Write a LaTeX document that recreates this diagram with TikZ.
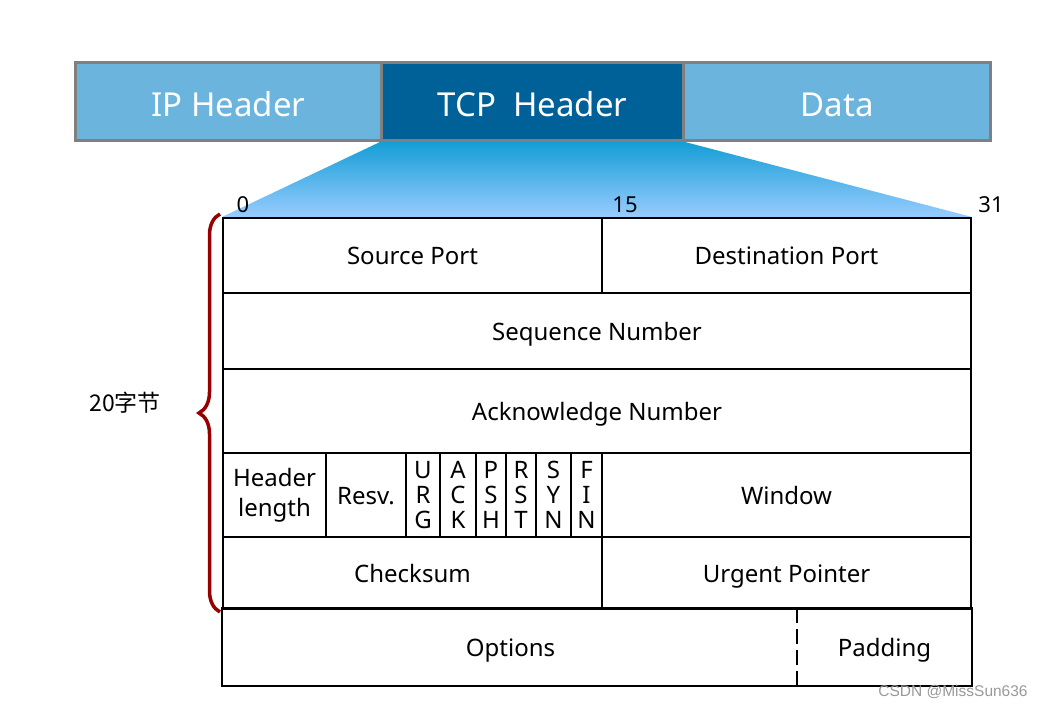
\documentclass[tikz,border=0pt]{standalone}
\usepackage{fontspec}
\setmainfont{Noto Sans}
\newfontfamily\cjkfont{Noto Sans CJK SC}
\newfontfamily\markfont{Liberation Sans}
\usepackage{tikz}
\usetikzlibrary{decorations.pathreplacing,backgrounds,positioning}
\definecolor{ipblue}{RGB}{107,180,221}
\definecolor{tcpblue}{RGB}{0,96,152}
\definecolor{fantop}{RGB}{20,158,214}
\definecolor{fanbot}{RGB}{153,204,255}
\definecolor{bracered}{RGB}{150,0,0}

\begin{document}
\begin{tikzpicture}[x=1pt,y=-1pt,
                    seg/.style={draw=gray, line width=3pt, text=white, minimum height=78, inner sep=0, anchor=north west, text height=30, text depth=0, font=\fontsize{33}{36}\selectfont},
                    field/.style={draw, line width=2pt, inner sep=0, anchor=north west, align=center, font=\fontsize{24}{30}\selectfont},
                    oneline/.style={field, text height=19, text depth=0},
                    flag/.style={field, font=\fontsize{24}{25}\selectfont},
                    bitnum/.style={inner sep=0, font=\fontsize{22}{24}\selectfont},
                   ]

\useasboundingbox (0,0) rectangle (1041,708);

% packet
\node[seg, fill=ipblue, minimum width=306] (ip) at (74,61) {IP Header};
\node[seg, fill=tcpblue, minimum width=302] (tcp) at (380,61) {TCP\ \ Header};
\node[seg, fill=ipblue, minimum width=307] (data) at (682,61) {Data};

% header fields
\node[oneline, minimum width=379, minimum height=75] (srcport) at (222,217) {Source Port};
\node[oneline, minimum width=369, minimum height=75] (dstport) at (601,217) {Destination Port};
\node[oneline, minimum width=748, minimum height=76] (seqnum) at (222,292) {Sequence Number};
\node[oneline, minimum width=748, minimum height=84] (acknum) at (222,368) {Acknowledge Number};

\node[field, minimum width=103, minimum height=84] (hlen) at (222,452) {Header\\length};
\node[oneline, minimum width=80, minimum height=84] (resv) at (325,452) {Resv.};
\node[flag, minimum width=34, minimum height=84] (urg) at (405,452) {U\\R\\G};
\node[flag, minimum width=36, minimum height=84] (ack) at (439,452) {A\\C\\K};
\node[flag, minimum width=30, minimum height=84] (psh) at (475,452) {P\\S\\H};
\node[flag, minimum width=30, minimum height=84] (rst) at (505,452) {R\\S\\T};
\node[flag, minimum width=35, minimum height=84] (syn) at (535,452) {S\\Y\\N};
\node[flag, minimum width=31, minimum height=84] (fin) at (570,452) {F\\I\\N};
\node[oneline, minimum width=369, minimum height=84] (window) at (601,452) {Window};

\node[oneline, minimum width=379, minimum height=72] (checksum) at (222,536) {Checksum};
\node[oneline, minimum width=369, minimum height=72] (urgptr) at (601,536) {Urgent Pointer};

\node[oneline, draw=none, minimum width=575, minimum height=76] (options) at (222,608) {Options};
\node[oneline, draw=none, minimum width=173, minimum height=76] (pad) at (797,608) {Padding};
\draw[line width=2pt] (options.north west) rectangle (pad.south east);
\draw[line width=2pt, dash pattern=on 15pt off 6pt] (pad.north west) -- (pad.south west);

% fan from the packet to the table
\begin{scope}[on background layer]
\shade[top color=fantop, bottom color=fanbot] (tcp.south west) -- (tcp.south east) -- (dstport.north east) -- (srcport.north west) -- cycle;
\end{scope}

\node[bitnum] (bit0) at (243,205) {0};
\node[bitnum] (bit15) at (625,205) {15};
\node[bitnum] (bit31) at (991,205) {31};

\draw[bracered, line width=3.5pt, decorate, decoration={brace, amplitude=21pt}] (220,612) -- (220,214);
\node[font=\fontsize{23}{26}\selectfont] (bytes) at (125,403) {\cjkfont 20字节};

\node[text=gray!80, font=\markfont\fontsize{15.5}{17}\selectfont] (mark) at (953,692) {CSDN @MissSun636};

\end{tikzpicture}
\end{document}
